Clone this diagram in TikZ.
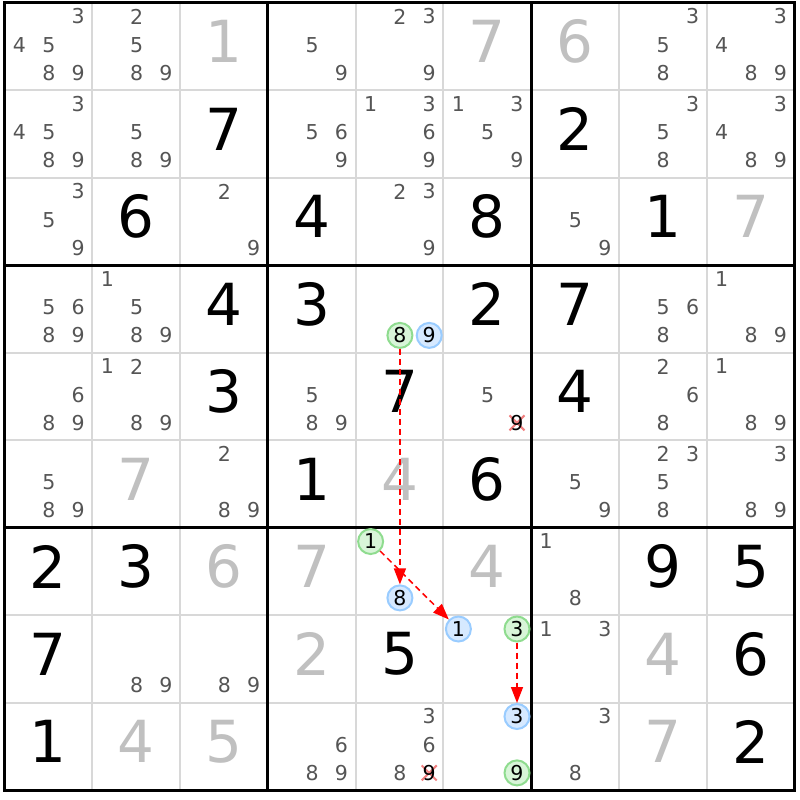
\documentclass[tikz,border=0pt]{standalone}
\usepackage{fontspec}
\setmainfont{DejaVu Sans}
\usetikzlibrary{arrows.meta,shapes.misc}
\definecolor{candgray}{HTML}{555555}
\definecolor{givengray}{HTML}{C0C0C0}
\definecolor{thingrid}{HTML}{D8D8D8}
\definecolor{gfill}{HTML}{D8F5D8}
\definecolor{gline}{HTML}{8FDC8F}
\definecolor{bfill}{HTML}{D6E9FF}
\definecolor{bline}{HTML}{99CCFF}
\definecolor{xred}{HTML}{F08080}
\newcommand\CW{87.78}
\newcommand\CH{87.5}
\newcommand\GX{4.5}
\newcommand\GY{2.5}
% big digit: row, col, digit, style
\newcommand\bigd[4]{\node[#4] (v#1#2) at ({\GX+(#2-0.5)*\CW},{\GY+(#1-0.5)*\CH-4.5}) {#3};}
% candidate position macro
\newcommand\cpos[3]{({\GX+(#2-1)*\CW+15+mod(#3-1,3)*29.3},{\GY+(#1-1)*\CH+14+floor((#3-1)/3)*28.2})}
\newcommand\cands[3]{\foreach \dg in {#3}{\node[cand] (c#1#2\dg) at \cpos{#1}{#2}{\dg} {\dg};}}
\newcommand\circd[5]{\node[#5] (#4) at \cpos{#1}{#2}{#3} {#3};}
\newcommand\elim[3]{\node[xout] (x#1#2#3) at \cpos{#1}{#2}{#3} {};\node[candk] (c#1#2#3) at \cpos{#1}{#2}{#3} {#3};}
\begin{document}
\begin{tikzpicture}[x=1pt,y=-1pt,
  cand/.style={inner sep=0pt, text=candgray, font=\fontsize{20.5}{20.5}\selectfont},
  candk/.style={inner sep=0pt, text=black, font=\fontsize{20.5}{20.5}\selectfont},
  bigk/.style={inner sep=0pt, text=black, font=\fontsize{58}{58}\selectfont},
  bigg/.style={inner sep=0pt, text=givengray, font=\fontsize{58}{58}\selectfont},
  grn/.style={circle, inner sep=0pt, minimum size=25pt, fill=gfill, draw=gline, line width=2pt, text=black, font=\fontsize{20.5}{20.5}\selectfont},
  blu/.style={circle, inner sep=0pt, minimum size=25pt, fill=bfill, draw=bline, line width=2pt, text=black, font=\fontsize{20.5}{20.5}\selectfont},
  xout/.style={cross out, draw=xred, line width=2pt, minimum size=13pt, inner sep=0pt},
  arr/.style={draw=red, line width=1.5pt, dash pattern=on 6pt off 4pt, -{Triangle[length=16pt,width=12pt]}},
  thin/.style={draw=thingrid, line width=2pt},
  thick/.style={draw=black, line width=3pt}]
\useasboundingbox (0,0) rectangle (800,800);
\fill[white] (0,0) rectangle (800,800);
% grid
\foreach \i in {1,2,4,5,7,8}{
  \draw[thin] ({\GX+\i*\CW},\GY) -- ({\GX+\i*\CW},{\GY+9*\CH});
  \draw[thin] (\GX,{\GY+\i*\CH}) -- ({\GX+9*\CW},{\GY+\i*\CH});
}
\foreach \i in {3,6}{
  \draw[thick] ({\GX+\i*\CW},\GY) -- ({\GX+\i*\CW},{\GY+9*\CH});
  \draw[thick] (\GX,{\GY+\i*\CH}) -- ({\GX+9*\CW},{\GY+\i*\CH});
}
\draw[thick] (\GX,\GY) rectangle ({\GX+9*\CW},{\GY+9*\CH});
% row 1
\cands{1}{1}{3,4,5,8,9}
\cands{1}{2}{2,5,8,9}
\bigd{1}{3}{1}{bigg}
\cands{1}{4}{5,9}
\cands{1}{5}{2,3,9}
\bigd{1}{6}{7}{bigg}
\bigd{1}{7}{6}{bigg}
\cands{1}{8}{3,5,8}
\cands{1}{9}{3,4,8,9}
% row 2
\cands{2}{1}{3,4,5,8,9}
\cands{2}{2}{5,8,9}
\bigd{2}{3}{7}{bigk}
\cands{2}{4}{5,6,9}
\cands{2}{5}{1,3,6,9}
\cands{2}{6}{1,3,5,9}
\bigd{2}{7}{2}{bigk}
\cands{2}{8}{3,5,8}
\cands{2}{9}{3,4,8,9}
% row 3
\cands{3}{1}{3,5,9}
\bigd{3}{2}{6}{bigk}
\cands{3}{3}{2,9}
\bigd{3}{4}{4}{bigk}
\cands{3}{5}{2,3,9}
\bigd{3}{6}{8}{bigk}
\cands{3}{7}{5,9}
\bigd{3}{8}{1}{bigk}
\bigd{3}{9}{7}{bigg}
% row 4
\cands{4}{1}{5,6,8,9}
\cands{4}{2}{1,5,8,9}
\bigd{4}{3}{4}{bigk}
\bigd{4}{4}{3}{bigk}
\circd{4}{5}{8}{g458}{grn}
\circd{4}{5}{9}{b459}{blu}
\bigd{4}{6}{2}{bigk}
\bigd{4}{7}{7}{bigk}
\cands{4}{8}{5,6,8}
\cands{4}{9}{1,8,9}
% row 5
\cands{5}{1}{6,8,9}
\cands{5}{2}{1,2,8,9}
\bigd{5}{3}{3}{bigk}
\cands{5}{4}{5,8,9}
\bigd{5}{5}{7}{bigk}
\cands{5}{6}{5}
\elim{5}{6}{9}
\bigd{5}{7}{4}{bigk}
\cands{5}{8}{2,6,8}
\cands{5}{9}{1,8,9}
% row 6
\cands{6}{1}{5,8,9}
\bigd{6}{2}{7}{bigg}
\cands{6}{3}{2,8,9}
\bigd{6}{4}{1}{bigk}
\bigd{6}{5}{4}{bigg}
\bigd{6}{6}{6}{bigk}
\cands{6}{7}{5,9}
\cands{6}{8}{2,3,5,8}
\cands{6}{9}{3,8,9}
% row 7
\bigd{7}{1}{2}{bigk}
\bigd{7}{2}{3}{bigk}
\bigd{7}{3}{6}{bigg}
\bigd{7}{4}{7}{bigg}
\circd{7}{5}{1}{g751}{grn}
\circd{7}{5}{8}{b758}{blu}
\bigd{7}{6}{4}{bigg}
\cands{7}{7}{1,8}
\bigd{7}{8}{9}{bigk}
\bigd{7}{9}{5}{bigk}
% row 8
\bigd{8}{1}{7}{bigk}
\cands{8}{2}{8,9}
\cands{8}{3}{8,9}
\bigd{8}{4}{2}{bigg}
\bigd{8}{5}{5}{bigk}
\circd{8}{6}{1}{b861}{blu}
\circd{8}{6}{3}{g863}{grn}
\cands{8}{7}{1,3}
\bigd{8}{8}{4}{bigg}
\bigd{8}{9}{6}{bigk}
% row 9
\bigd{9}{1}{1}{bigk}
\bigd{9}{2}{4}{bigg}
\bigd{9}{3}{5}{bigg}
\cands{9}{4}{6,8,9}
\cands{9}{5}{3,6,8}
\elim{9}{5}{9}
\circd{9}{6}{3}{b963}{blu}
\circd{9}{6}{9}{g969}{grn}
\cands{9}{7}{3,8}
\bigd{9}{8}{7}{bigg}
\bigd{9}{9}{2}{bigk}
% chain arrows
\draw[arr] (g458) -- (b758);
\draw[arr] (g751) -- (b861);
\draw[arr] (g863) -- (b963);
\end{tikzpicture}
\end{document}
